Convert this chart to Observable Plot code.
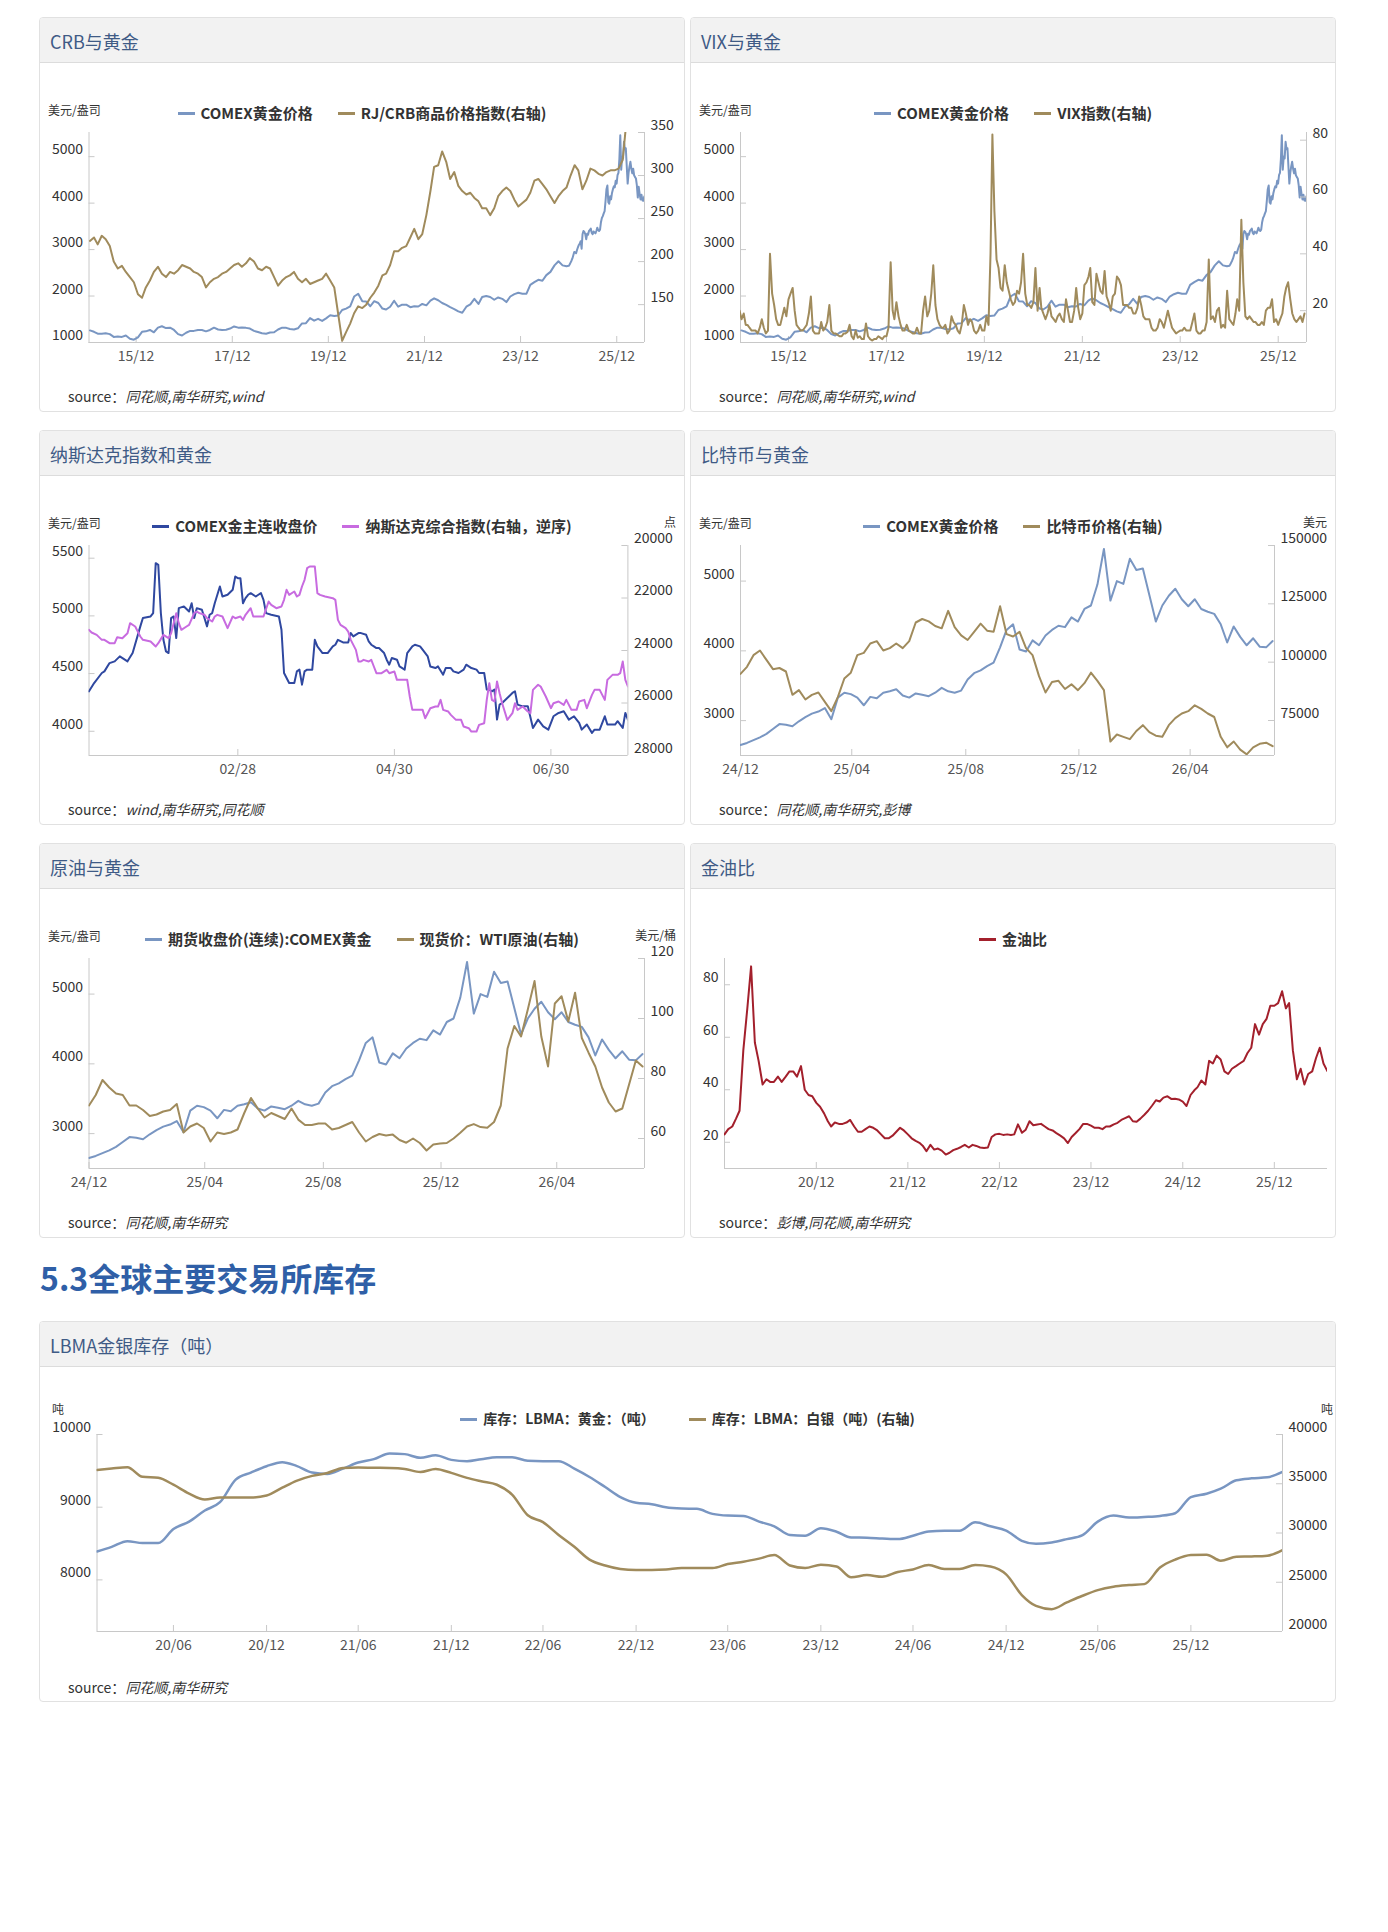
<!DOCTYPE html>
<html><head><meta charset="utf-8">
<script src="https://cdn.jsdelivr.net/npm/d3@7"></script>
<script src="https://cdn.jsdelivr.net/npm/@observablehq/plot@0.6"></script>
<style>
body{margin:0;background:#fff;font-family:"Noto Sans CJK SC","Noto Sans",sans-serif;color:#333}
#page{position:relative;width:1388px;height:1932px;overflow:hidden;background:#fff}
.panel{position:absolute;border:1px solid #e1e1e1;border-radius:4px;background:#fff;box-sizing:border-box;overflow:hidden}
.hdr{position:absolute;left:0;top:0;right:0;height:44px;background:#f2f2f2;border-bottom:1px solid #dcdcdc}
.ttl{position:absolute;left:10px;top:11px;font-size:18px;line-height:24px;color:#3f5b86;white-space:nowrap}
.lg{position:absolute;left:0;right:0;top:85px;display:flex;justify-content:center;gap:25px;font-size:15px;font-weight:bold;line-height:20px;color:#333;white-space:nowrap}
.lg .sw{display:inline-block;width:17px;height:3px;margin-right:6px;vertical-align:middle;position:relative;top:-1px}
.ul{position:absolute;left:8px;top:84px;font-size:12px;line-height:16px;color:#333}
.ur{position:absolute;right:8px;top:83px;font-size:12px;line-height:16px;color:#333}
.src{position:absolute;left:28px;top:368px;font-size:14px;line-height:20px;color:#333}
.src i{font-style:italic}
.panel svg{position:absolute;left:0;top:0;max-width:none}
#h53{position:absolute;left:40px;top:1257px;font-size:32px;line-height:40px;font-weight:bold;color:#2f5fa7;white-space:nowrap}
</style>
</head><body><div id="page"><div id="h53">5.3全球主要交易所库存</div></div>
<script>
const U = (y, m, d = 1) => new Date(Date.UTC(y, m - 1, d));

// ---------------- DATA ----------------
// COMEX gold, monthly 2015-01 .. 2024-12
const goldMonthly = [
1260,1230,1190,1190,1200,1180,1120,1130,1120,1150,1080,1060,
1110,1230,1240,1270,1220,1320,1350,1310,1320,1270,1180,1150,
1210,1250,1250,1270,1270,1240,1270,1320,1280,1270,1275,1300,
1345,1320,1325,1315,1300,1250,1225,1200,1190,1215,1220,1280,
1320,1315,1290,1280,1305,1410,1415,1525,1470,1510,1465,1520,
1585,1570,1580,1700,1730,1780,1990,2050,1890,1880,1780,1890,
1850,1730,1710,1770,1900,1770,1815,1815,1760,1780,1775,1830,
1800,1900,1950,1910,1850,1810,1760,1720,1670,1640,1770,1820,
1940,1830,1980,2000,1980,1920,1970,1940,1870,1990,2040,2070,
2050,2050,2240,2300,2350,2330,2450,2520,2660,2750,2660,2640];
// COMEX gold, weekly from 2025-01-01
const goldWeekly = [
2650,2680,2720,2760,2810,2880,2950,2940,2920,2990,
3050,3100,3130,3180,3020,3330,3400,3380,3330,3220,
3340,3320,3400,3420,3450,3360,3330,3390,3370,3350,
3400,3470,3420,3400,3430,3590,3680,3720,3780,3830,
4050,4300,4380,4020,3990,4150,4080,4220,4300,4360,
4340,4480,4420,4600,4650,4950,5460,4720,5000,4960,
5320,5160,5180,4800,4420,4650,4790,4890,4740,4640,
4740,4600,4560,4530,4380,4120,4350,4200,4080,4180,
4060,4050,4140];
// RJ/CRB index, monthly 2015-01 .. 2026-07
const crbMonthly = [
224,228,220,230,226,218,200,192,195,188,182,176,
162,158,170,178,188,194,186,182,188,186,190,196,
194,192,188,186,182,170,176,180,182,186,188,192,
196,198,194,198,204,200,192,190,194,192,182,172,
178,182,184,188,180,176,180,174,176,178,180,186,
178,170,140,108,118,128,140,148,146,150,158,164,
172,184,186,196,212,212,216,218,228,238,226,232,
254,282,310,312,328,316,296,304,288,282,278,280,
274,270,262,262,254,262,276,282,286,282,272,264,
268,272,280,294,296,290,284,276,268,276,282,286,
300,312,306,284,294,308,306,302,300,304,306,306,
308,318,362,380,372,362,352];
// VIX, semi-monthly (1st, 16th) 2015-01 .. 2026-07
const vixSemi = [
20,17,19,15,15,14,13,13,13,12,14,17,14,12,13,40,26,22,17,15,15,18,21,18,
24,26,28,20,15,14,13,13,14,15,19,25,13,12,12,12,16,13,14,16,22,13,12,12,
11.5,11,11,12,12,12.5,15,11,10,13,10.5,11,10,10,15.5,11,10,9.5,10,10,11,10.5,10,11,
11,14,37,20,17,23,18,15,13,13,15,13,12.5,12,12,14,12,12,20,25,18,20,26,36,
22,17,15,14,14,15,12,13,18,16,15,13,12,15,22,19,15,17,16,13,12,13,15,13,
13,18,15,40,82,55,38,35,28,27,36,30,27,24,22,23,27,26,30,40,26,22,22,21,
23,35,20,28,21,19,17,19,22,18,17,16,18,19,17,16,24,20,16,16,20,28,21,17,
19,29,30,32,35,23,22,33,30,27,26,34,25,23,20,25,26,32,31,29,22,22,22,21,
21,19,19,21,25,22,18,17,17,17,14,13,13,14,17,16,14,17,20,17,14,13,12,12.5,
13,13,14,13,13,13,16,19,13,12,12,13,13,16,38,17,18,16,20,21,14,15,14,27,
17,16,15,19,24,20,52,30,18,17,18,17,16,16,15,15,16,15,20,21,21,24,16,17,
15,17,19,25,28,30,24,19,17,16,17,18,16,19];
// Panel 3 (2026): day offsets from 01-01 and values
const gold3Day = [0,2,5,6,8,10,12,15,17,20,21,24,25,26,27,28,29,30,31,32,33,34,35,37,39,40,41,42,44,46,47,48,49,51,52,54,56,57,58,59,60,61,62,63,65,66,67,68,69,71,74,75,76,78,80,81,82,83,84,85,87,88,89,91,93,95,96,97,99,101,102,103,105,106,108,109,110,111,112,113,115,116,117,118,120,121,123,124,126,127,129,130,132,133,135,136,138,139,141,142,144,146,147,149,151,152,154,155,156,157,158,159,160,161,163,165,166,167,169,171,173,175,177,179,181,183,185,187,189,191,192,194,196,197,199,201,202,205,206,208,209,210];
const gold3 = [4346,4418,4505,4519,4591,4606,4649,4606,4678,4909,4981,4995,5024,5457,5442,5024,4793,4692,4678,4981,4995,4808,5067,5082,5038,5110,4981,5067,5053,4909,5010,5024,5110,5255,5168,5183,5226,5341,5327,5327,5110,5154,5183,5197,5168,5183,5197,5139,5024,5010,4995,4880,4505,4418,4418,4519,4534,4404,4519,4534,4534,4793,4736,4678,4678,4736,4750,4793,4770,4770,4851,4822,4851,4851,4836,4779,4750,4736,4721,4721,4678,4620,4577,4635,4620,4562,4534,4678,4736,4750,4736,4707,4649,4562,4548,4562,4490,4548,4548,4519,4505,4534,4577,4548,4534,4505,4505,4361,4361,4346,4361,4101,4231,4245,4288,4332,4346,4231,4216,4216,4029,4101,4043,4014,4130,4159,4173,4101,4130,4072,4014,4058,3986,4014,4014,4130,4058,4058,4087,4029,4159,4101];
const nasDay = [0,1,3,5,6,8,10,11,13,15,16,18,20,21,24,26,27,29,31,32,34,35,36,38,39,41,42,43,45,46,48,49,50,52,54,56,57,59,60,61,63,64,66,68,70,71,73,75,76,77,78,80,81,82,83,84,85,86,88,89,90,92,95,96,97,98,100,101,102,104,105,106,107,109,110,111,112,114,116,117,119,120,122,124,125,126,128,130,131,133,135,136,137,138,140,141,143,145,146,148,149,151,152,154,155,156,157,158,159,160,161,163,165,166,167,169,171,172,173,175,176,178,180,181,183,185,186,188,190,191,193,194,196,197,199,201,202,204,206,207,208,209,210];
const nasdaq3 = [23213,23315,23404,23594,23594,23721,23721,23493,23531,23340,22959,23086,23467,23594,23658,23848,23721,23404,23531,23340,22578,22959,23213,23086,23023,22578,22515,22578,22641,22769,22896,22705,22641,22705,23150,22705,22769,22705,22832,22641,22388,22705,22705,22705,22134,22261,22388,22324,22070,21689,21880,21753,21943,21880,21562,21308,20864,20800,20800,21816,21880,21943,22007,22070,22832,23023,23150,23277,23594,23975,24420,24420,24356,24420,24356,24610,24864,24864,24737,24864,24801,25118,25118,25118,25753,26261,26261,26261,26579,26198,26134,26134,25880,26261,26325,26452,26642,26642,26896,26960,27087,27087,26833,26769,25880,25245,25880,25944,25181,25626,26007,26642,26388,26007,26261,26134,26325,26388,25499,25308,25372,25753,26198,26007,25944,26071,25880,26261,26261,25944,25880,26198,25689,25499,25499,25880,25118,24928,24928,24864,24420,25118,25372];
// Bitcoin, weekly from 2025-01-01
const btcWeekly = [
95000,98000,103000,105000,101000,97000,97500,96000,86000,88000,
84000,86000,87000,83000,79000,85000,93000,95500,103000,104000,
108000,109000,105000,106000,108000,106000,109000,117000,118500,117500,
115500,114500,122000,115000,111500,109500,113000,116500,113500,113000,
124000,112000,111000,113000,106000,103000,94000,87000,91500,92000,
88500,90500,88000,91000,95500,92000,88000,66000,69000,68000,
67000,70500,73000,70000,68500,68000,73000,76000,78000,79000,
81500,80000,78000,76500,68000,63500,66000,62500,60500,63500,
65000,65500,64000];
// WTI crude, weekly from 2025-01-01
const wtiWeekly = [
71,74.5,79.5,77,75,74.5,71,71,69.5,67.5,
68,69,69.5,71.5,62,64,65,63.5,59,62,
61.5,62,63,68.5,73.5,70,67,68.5,67.5,66.5,
70,66.3,64.5,64.5,65,65,63,63.5,64.5,65.5,
62,59,60.5,61.5,61,61.3,59.5,58.6,60,58.5,
56,58,58.3,58.5,60,61.9,64,64.8,63.8,63.6,
65.5,71,90,97.5,94,103,112.5,94,84,105,
107.4,99,108.6,93.5,88.6,84,77,72,69,70,
78,86,84];
// Gold/oil ratio, semi-monthly from 2020-01-01
const goldOilSemi = [
23,25,26,29,32,55,71,87,58,51,
42,44,43,43,45,43,45,47,47,45,
49,40,38,37.5,35,33.5,31,28,26,27.5,
27,27,27.5,28.5,26,24,24,25,26,25.5,
24.5,23,21.5,21.5,22.5,24,25.5,24.5,23,21.5,
20.5,19.8,18.7,16.6,19,17.2,17.6,16.8,15.3,16,
17,17.5,18.2,19,18,19,18.6,18,17.8,18,
22,23,23.2,22.8,23,22.8,23,26.8,23.6,24.8,
28,26.5,26.8,27,26,25,24.5,23.5,22.5,21.5,
19.7,22,23.5,25,27,27,26.3,25.5,25.5,25,
26,26,26.8,27.4,28.5,29.2,29.9,28,27.8,29,
30.5,32,34,36,35.5,37,37.5,36.5,36.6,36.3,
35.5,33.8,38,39.8,41,43.5,42,51,50,53,
51.5,47,46,48,49,50,51,54,56,65,
61,65,67,72,72,73,77.5,71,73,55,
44,48,42,46,47,52,56,50,47];
// LBMA stocks, monthly from 2020-02
const lbmaGold = [
8390,8455,8533,8506,8506,8700,8801,8954,9069,9379,
9476,9564,9619,9568,9476,9457,9531,9614,9661,9739,
9730,9679,9716,9651,9633,9661,9688,9688,9638,9633,
9633,9531,9416,9277,9139,9060,9042,9000,8982,8977,
8908,8885,8880,8801,8737,8617,8607,8709,8663,8584,
8580,8570,8561,8607,8667,8677,8677,8792,8737,8677,
8538,8496,8515,8561,8617,8801,8885,8857,8866,8880,
8917,9139,9185,9254,9370,9397,9411,9485];
const lbmaSilver = [
36400,36550,36680,35700,35600,34900,34000,33400,33600,33600,
33600,33800,34600,35300,35800,36100,36600,36650,36620,36600,
36500,36200,36500,36100,35600,35250,34900,33900,31800,31100,
29800,28600,27300,26700,26350,26250,26250,26300,26450,26450,
26450,26850,27080,27400,27760,26700,26450,26780,26600,25500,
25730,25560,26050,26300,26750,26340,26340,26750,26600,25800,
23700,22600,22270,22950,23630,24200,24550,24710,24810,26500,
27300,27760,27800,27190,27590,27620,27700,28270];

// tick labels
const ticksLong = {dates:[U(2016,1),U(2018,1),U(2020,1),U(2022,1),U(2024,1),U(2026,1)], labels:["15/12","17/12","19/12","21/12","23/12","25/12"]};
const ticks26 = {dates:[U(2026,2,28),U(2026,4,30),U(2026,6,30)], labels:["02/28","04/30","06/30"]};
const ticks2526 = {dates:[U(2025,1),U(2025,5),U(2025,9),U(2026,1),U(2026,5)], labels:["24/12","25/04","25/08","25/12","26/04"]};
const ticksRatio = {dates:[U(2021,1),U(2022,1),U(2023,1),U(2024,1),U(2025,1),U(2026,1)], labels:["20/12","21/12","22/12","23/12","24/12","25/12"]};
const ticksLbma = {dates:[U(2020,7),U(2021,1),U(2021,7),U(2022,1),U(2022,7),U(2023,1),U(2023,7),U(2024,1),U(2024,7),U(2025,1),U(2025,7),U(2026,1)],
  labels:["20/06","20/12","21/06","21/12","22/06","22/12","23/06","23/12","24/06","24/12","25/06","25/12"]};

// ------------- build series tables -------------
const monthly = (start, vals) => vals.map((v, i) => ({date: d3.utcMonth.offset(start, i), value: v}));
const weekly = (start, vals) => vals.map((v, i) => ({date: d3.utcDay.offset(start, 7 * i), value: v}));
const semi = (start, vals) => vals.map((v, i) => ({date: d3.utcDay.offset(d3.utcMonth.offset(start, Math.floor(i / 2)), i % 2 ? 15 : 0), value: v}));
const byDay = (days, vals) => vals.map((v, i) => ({date: d3.utcDay.offset(U(2026, 1, 1), days[i]), value: v}));

const goldW = weekly(U(2025,1,1), goldWeekly);
const goldLong = [...monthly(U(2015,1,15), goldMonthly), ...goldW];
const crb = monthly(U(2015,1,15), crbMonthly);
const vix = semi(U(2015,1,1), vixSemi);
const g3 = byDay(gold3Day, gold3);
const n3 = byDay(nasDay, nasdaq3);
const btc = weekly(U(2025,1,1), btcWeekly);
const wti = weekly(U(2025,1,1), wtiWeekly);
const ratio = semi(U(2020,1,1), goldOilSemi);
const lg = monthly(U(2020,2,1), lbmaGold);
const ls = monthly(U(2020,2,1), lbmaSilver);

// ------------- drawing -------------
const AX = "#c8c8c8";
const FONT = '"Noto Sans CJK SC","Noto Sans",sans-serif';
const BLUE = "#7996c2", BROWN = "#a08b5c";
const page = document.getElementById("page");
const fmt = d => String(d);

function layer(p, w, h, m, side) {
  const pw = w - m.l - m.r, ph = h - m.t - m.b;
  const Y = side === "L" ? p.yL : p.yR;
  const lab = new Map(p.xt.dates.map((d, i) => [+d, p.xt.labels[i]]));
  const marks = [];
  if (side === "L") {
    marks.push(
      Plot.ruleY([Y.domain[0]], {stroke: AX}),
      Plot.ruleX([p.xDomain[0]], {stroke: AX}),
      Plot.tickX(p.xt.dates, {x: d => d, stroke: AX, insetTop: ph - 6}),
      Plot.axisX({ticks: p.xt.dates, tickFormat: d => lab.get(+d), tickSize: 0, tickPadding: 9, fill: "#555", label: null}),
      Plot.tickY(Y.ticks, {y: d => d, stroke: AX, insetRight: pw - 6}),
      Plot.axisY({ticks: Y.ticks, tickFormat: fmt, tickSize: 0, tickPadding: 6, dy: -7, fill: "#333", label: null})
    );
  } else {
    marks.push(
      Plot.ruleX([p.xDomain[1]], {stroke: AX}),
      Plot.tickY(Y.ticks, {y: d => d, stroke: AX, insetLeft: pw - 6}),
      Plot.axisY({anchor: "right", ticks: Y.ticks, tickFormat: fmt, tickSize: 0, tickPadding: 6, dy: -7, fill: "#333", label: null})
    );
  }
  for (const s of Y.series) {
    marks.push(Plot.line(s.data, {x: "date", y: "value", stroke: s.color, strokeWidth: s.width || 2, curve: p.curve || "linear", clip: true}));
  }
  return Plot.plot({
    width: w, height: h,
    marginTop: m.t, marginBottom: m.b, marginLeft: m.l, marginRight: m.r,
    style: {background: "transparent", fontFamily: FONT, fontSize: "14px", color: "#333", overflow: "visible"},
    x: {type: "utc", domain: p.xDomain, axis: null},
    y: {domain: Y.domain, reverse: !!Y.reverse, axis: null},
    marks
  });
}

function panel(p) {
  const el = document.createElement("div");
  el.className = "panel";
  Object.assign(el.style, {left: p.left + "px", top: p.top + "px", width: p.w + "px", height: p.h + "px"});
  const hdr = document.createElement("div"); hdr.className = "hdr";
  const ttl = document.createElement("span"); ttl.className = "ttl"; ttl.textContent = p.title;
  hdr.append(ttl); el.append(hdr);
  const w = p.w - 2, h = p.h - 2;
  const m = {l: p.m.l - 1, r: p.m.r - 1, t: p.m.t - 1, b: p.m.b - 1};
  el.append(layer(p, w, h, m, "L"));
  if (p.yR) el.append(layer(p, w, h, m, "R"));
  const lgd = document.createElement("div"); lgd.className = "lg";
  if (p.lgStyle) Object.assign(lgd.style, p.lgStyle);
  for (const it of p.legend) {
    const s = document.createElement("span");
    const sw = document.createElement("span"); sw.className = "sw"; sw.style.background = it.color;
    s.append(sw, it.label); lgd.append(s);
  }
  el.append(lgd);
  if (p.unitL) { const u = document.createElement("div"); u.className = "ul"; u.textContent = p.unitL; if (p.unitStyle) Object.assign(u.style, p.unitStyle.l); el.append(u); }
  if (p.unitR) { const u = document.createElement("div"); u.className = "ur"; u.textContent = p.unitR; if (p.unitStyle) Object.assign(u.style, p.unitStyle.r); el.append(u); }
  const src = document.createElement("div"); src.className = "src";
  if (p.srcTop) src.style.top = p.srcTop + "px";
  const it = document.createElement("i"); it.textContent = p.source;
  src.append("source：", it); el.append(src);
  page.append(el);
}

const W = 646, H = 395;
const L = 39, R = 690, R1 = 17, R2 = 430, R3 = 843;
const MT = 115, MB = 70;

panel({left: L, top: R1, w: W, h: H, title: "CRB与黄金",
  legend: [{label: "COMEX黄金价格", color: BLUE}, {label: "RJ/CRB商品价格指数(右轴)", color: BROWN}],
  unitL: "美元/盎司", source: "同花顺,南华研究,wind",
  m: {l: 49.5, r: 41, t: MT, b: MB}, xDomain: [U(2015,1,8), U(2026,7,31)], xt: ticksLong,
  yL: {domain: [1000, 5520], ticks: [1000,2000,3000,4000,5000], series: [{data: goldLong, color: BLUE}]},
  yR: {domain: [106, 350], ticks: [150,200,250,300,350], series: [{data: crb, color: BROWN}]}});

panel({left: R, top: R1, w: W, h: H, title: "VIX与黄金",
  legend: [{label: "COMEX黄金价格", color: BLUE}, {label: "VIX指数(右轴)", color: BROWN}],
  unitL: "美元/盎司", source: "同花顺,南华研究,wind",
  m: {l: 50, r: 30, t: MT, b: MB}, xDomain: [U(2015,1,8), U(2026,7,31)], xt: ticksLong,
  yL: {domain: [1000, 5520], ticks: [1000,2000,3000,4000,5000], series: [{data: goldLong, color: BLUE}]},
  yR: {domain: [8.8, 82.7], ticks: [20,40,60,80], series: [{data: vix, color: BROWN}]}});

panel({left: L, top: R2, w: W, h: H, title: "纳斯达克指数和黄金",
  legend: [{label: "COMEX金主连收盘价", color: "#2f48a0"}, {label: "纳斯达克综合指数(右轴，逆序)", color: "#c86be0"}],
  unitL: "美元/盎司", unitR: "点", source: "wind,南华研究,同花顺",
  m: {l: 49.5, r: 57.6, t: MT, b: MB}, xDomain: [U(2026,1,1), U(2026,7,30)], xt: ticks26,
  yL: {domain: [3790, 5610], ticks: [4000,4500,5000,5500], series: [{data: g3, color: "#2f48a0"}]},
  yR: {domain: [20000, 28000], reverse: true, ticks: [20000,22000,24000,26000,28000], series: [{data: n3, color: "#c86be0"}]}});

panel({left: R, top: R2, w: W, h: H, title: "比特币与黄金",
  legend: [{label: "COMEX黄金价格", color: BLUE}, {label: "比特币价格(右轴)", color: BROWN}],
  unitL: "美元/盎司", unitR: "美元", source: "同花顺,南华研究,彭博",
  m: {l: 50, r: 62, t: MT, b: MB}, xDomain: [U(2025,1,1), U(2026,7,31)], xt: ticks2526,
  yL: {domain: [2500, 5510], ticks: [3000,4000,5000], series: [{data: goldW, color: BLUE}]},
  yR: {domain: [60000, 150000], ticks: [75000,100000,125000,150000], series: [{data: btc, color: BROWN}]}});

panel({left: L, top: R3, w: W, h: H, title: "原油与黄金",
  legend: [{label: "期货收盘价(连续):COMEX黄金", color: BLUE}, {label: "现货价：WTI原油(右轴)", color: BROWN}],
  unitL: "美元/盎司", unitR: "美元/桶", source: "同花顺,南华研究",
  m: {l: 49.5, r: 41, t: MT, b: MB}, xDomain: [U(2025,1,1), U(2026,7,31)], xt: ticks2526,
  yL: {domain: [2500, 5510], ticks: [3000,4000,5000], series: [{data: goldW, color: BLUE}]},
  yR: {domain: [50, 120], ticks: [60,80,100,120], series: [{data: wti, color: BROWN}]}});

panel({left: R, top: R3, w: W, h: H, title: "金油比",
  legend: [{label: "金油比", color: "#a3202c"}],
  source: "彭博,同花顺,南华研究",
  m: {l: 34, r: 9, t: MT, b: MB}, xDomain: [U(2020,1,1), U(2026,8,1)], xt: ticksRatio,
  yL: {domain: [10, 90], ticks: [20,40,60,80], series: [{data: ratio, color: "#a3202c"}]}});

panel({left: L, top: 1321, w: 1297, h: 381, title: "LBMA金银库存（吨）",
  legend: [{label: "库存：LBMA：黄金：（吨）", color: BLUE}, {label: "库存：LBMA：白银（吨）(右轴)", color: BROWN}],
  lgStyle: {fontSize: "14px", top: "86px", gap: "34px"},
  unitL: "吨", unitR: "吨", unitStyle: {l: {left: "12px", top: "80px", lineHeight: "14px"}, r: {right: "2px", top: "80px", lineHeight: "14px"}},
  source: "同花顺,南华研究", srcTop: 355, curve: "monotone-x",
  m: {l: 57.5, r: 54, t: 113, b: 71}, xDomain: [U(2020,2,1), U(2026,7,1)], xt: ticksLbma,
  yL: {domain: [7290, 10000], ticks: [8000,9000,10000], series: [{data: lg, color: BLUE, width: 2.5}]},
  yR: {domain: [20000, 40000], ticks: [20000,25000,30000,35000,40000], series: [{data: ls, color: BROWN, width: 2.5}]}});
</script>
</body></html>
